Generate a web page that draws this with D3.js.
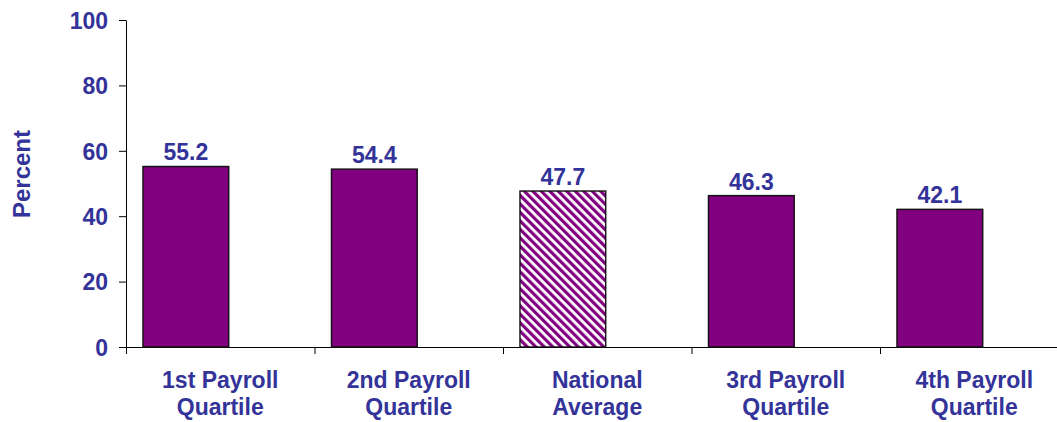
<!DOCTYPE html>
<html>

<head>
  <script src='https://cdn.jsdelivr.net/npm/d3@7/dist/d3.min.js'></script>
  <meta charset='utf-8'>
  <title></title>
  <style>
    body {
      margin: 0;
      background: #fff;
    }

    #barchart {
      width: 1057px;
      height: 422px;
    }

    text {
      font-family: 'Liberation Sans', Arial, sans-serif;
      font-weight: bold;
      fill: #333399;
    }
  </style>
</head>

<body>

  <div id='barchart'></div>
  <script>
    var categories = ['1st Payroll|Quartile', '2nd Payroll|Quartile', 'National|Average', '3rd Payroll|Quartile', '4th Payroll|Quartile'];
    var values = [55.2, 54.4, 47.7, 46.3, 42.1];
    var hatched = [false, false, true, false, false];
    var yTicks = [0, 20, 40, 60, 80, 100];

    var width = 1057,
      height = 422;

    var margin = {
      top: 20,
      left: 126,
      bottom: 75
    };

    var svg = d3.select('#barchart')
      .append('svg')
      .attr('width', width)
      .attr('height', height);

    // diagonal stripes for the national average bar
    var pattern = svg.append('defs')
      .append('pattern')
      .attr('id', 'hatch')
      .attr('patternUnits', 'userSpaceOnUse')
      .attr('width', 6)
      .attr('height', 6)
      .attr('patternTransform', 'rotate(-45)');
    pattern.append('rect')
      .attr('width', 6)
      .attr('height', 6)
      .attr('fill', '#fff');
    pattern.append('rect')
      .attr('width', 3.2)
      .attr('height', 6)
      .attr('fill', '#800080');

    var step = 188.5;
    var xScale = d3.scaleBand()
      .domain(categories)
      .range([margin.left, margin.left + step * categories.length])
      .padding(0);

    var yScale = d3.scaleLinear()
      .domain([0, 100])
      .range([height - margin.bottom, margin.top]);

    var y0 = yScale(0);

    // y axis
    var y_axis = svg.append('g')
      .attr('transform', 'translate(' + margin.left + ',0)')
      .call(d3.axisLeft(yScale)
        .tickValues(yTicks)
        .tickSizeInner(7)
        .tickSizeOuter(0)
        .tickPadding(11));
    y_axis.selectAll('text')
      .style('font-size', '23px')
      .style('font-family', "'Liberation Sans', Arial, sans-serif")
      .style('font-weight', 'bold')
      .attr('fill', '#333399')
      .attr('dy', '0.36em');
    y_axis.selectAll('line, path').attr('stroke', '#000');

    // x axis with ticks at category boundaries
    var edge = d3.scaleLinear()
      .domain([0, categories.length])
      .range(xScale.range());
    var x_axis = svg.append('g')
      .attr('transform', 'translate(0,' + y0 + ')')
      .call(d3.axisBottom(edge)
        .ticks(categories.length)
        .tickSizeInner(7)
        .tickSizeOuter(0)
        .tickFormat(''));
    x_axis.selectAll('line, path').attr('stroke', '#000');

    // bars sit left of the band centre, as in the original
    var barOffset = 0.09 * step,
      barWidth = 0.455 * step;

    var data = categories.map(function(c, i) {
      return { cat: c, value: values[i], hatched: hatched[i] };
    });

    svg.selectAll('.bar')
      .data(data)
      .enter()
      .append('rect')
      .attr('class', 'bar')
      .attr('x', function(d) { return xScale(d.cat) + barOffset; })
      .attr('y', function(d) { return yScale(d.value); })
      .attr('width', barWidth)
      .attr('height', function(d) { return y0 - yScale(d.value); })
      .attr('fill', function(d) { return d.hatched ? 'url(#hatch)' : '#800080'; })
      .attr('stroke', '#111')
      .attr('stroke-width', 1.4);

    svg.selectAll('.val')
      .data(data)
      .enter()
      .append('text')
      .attr('class', 'val')
      .attr('x', function(d) { return xScale(d.cat) + barOffset + barWidth / 2; })
      .attr('y', function(d) { return yScale(d.value) - 6; })
      .attr('text-anchor', 'middle')
      .style('font-size', '23px')
      .text(function(d) { return d.value.toFixed(1); });

    // two-line category labels
    var labels = svg.selectAll('.cat')
      .data(data)
      .enter()
      .append('text')
      .attr('class', 'cat')
      .attr('text-anchor', 'middle')
      .style('font-size', '23px');
    labels.selectAll('tspan')
      .data(function(d) {
        return d.cat.split('|').map(function(s, i) {
          return { text: s, line: i, x: xScale(d.cat) + xScale.bandwidth() / 2 };
        });
      })
      .enter()
      .append('tspan')
      .attr('x', function(d) { return d.x; })
      .attr('y', function(d) { return y0 + 41 + d.line * 27; })
      .text(function(d) { return d.text; });

    svg.append('text')
      .attr('transform', 'translate(30,' + 174 + ') rotate(-90)')
      .attr('text-anchor', 'middle')
      .style('font-size', '24px')
      .text('Percent');
  </script>
</body>

</html>
